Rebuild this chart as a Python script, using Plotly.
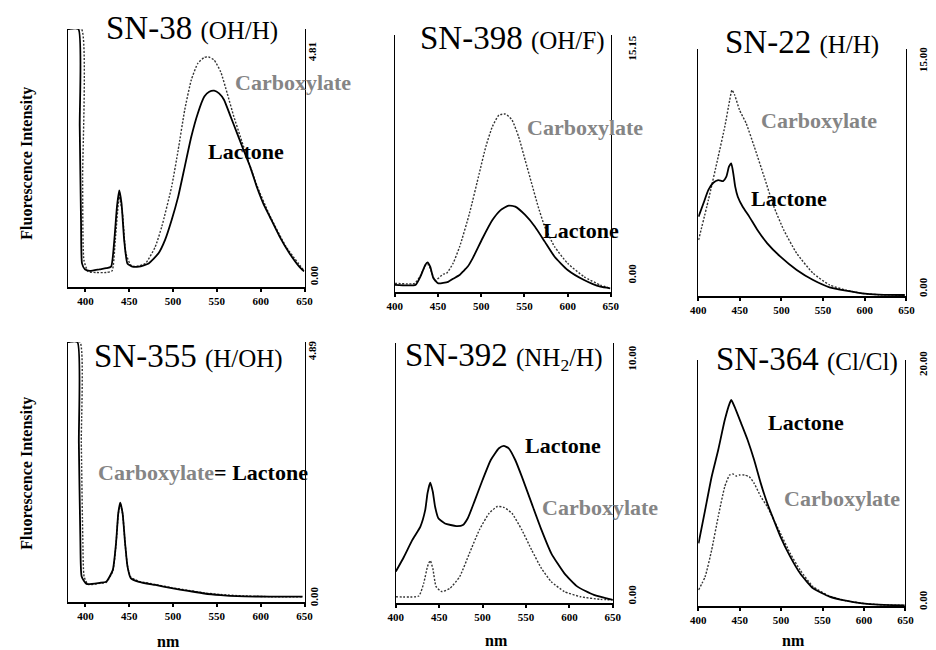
import plotly.graph_objects as go

# ---------------- data (wavelength nm, fluorescence intensity) ----------------
SN38_LAC_NM = [380, 392, 393.5, 395, 396.1, 399.4, 405, 416.2, 423.7, 429.3, 433, 436, 438.6, 441.2, 444.2, 447.9,
               453.5, 461, 472.2, 483.4, 490.9, 498.4, 505.8, 513.3, 520.8, 528.3, 535.7, 541.3, 546.9, 552.5,
               558.1, 565.6, 573, 580.5, 588, 595.5, 602.9, 610.4, 621.6, 632.8, 644, 649.6]
SN38_LAC_I = [4.81, 4.81, 3.0, 1.2, 0.44, 0.33, 0.30, 0.33, 0.35, 0.38, 0.88, 1.50, 1.80, 1.56, 0.88, 0.44,
              0.38, 0.38, 0.44, 0.63, 0.88, 1.25, 1.68, 2.24, 2.80, 3.24, 3.55, 3.64, 3.66, 3.61,
              3.49, 3.18, 2.87, 2.55, 2.24, 1.87, 1.56, 1.31, 0.94, 0.63, 0.38, 0.29]
SN38_CARB_NM = [380, 395.5, 396.8, 398.3, 403.1, 412.4, 423.7, 430.4, 434.1, 438.6, 442.3, 446.1, 451.7, 457.3,
                468.5, 479.7, 487.2, 498.4, 505.8, 513.3, 520.8, 528.3, 535.7, 540.2, 546.9, 554.4, 561.8,
                569.3, 576.8, 584.3, 595.5, 610.4, 629, 649.6]
SN38_CARB_I = [4.81, 4.81, 2.0, 0.50, 0.29, 0.27, 0.27, 0.30, 0.88, 1.68, 1.37, 0.63, 0.41, 0.38,
               0.44, 0.75, 1.13, 1.87, 2.55, 3.30, 3.86, 4.17, 4.28, 4.29, 4.23, 4.01, 3.61,
               3.18, 2.80, 2.43, 1.90, 1.33, 0.75, 0.30]

SN398_LAC_NM = [400, 423.9, 429.5, 435.2, 437.8, 440.9, 444.7, 450.3, 461.7, 467.4, 475, 478.8, 484.4, 490.2,
                501.5, 512.9, 522.4, 531.8, 539.4, 550.8, 562.2, 573.5, 584.9, 600, 619, 637.9, 649.3]
SN398_LAC_I = [0.42, 0.42, 0.90, 1.59, 1.75, 1.49, 0.81, 0.51, 0.60, 0.78, 1.00, 1.20, 1.50, 2.00,
               3.17, 4.24, 4.83, 5.09, 5.03, 4.54, 3.85, 2.97, 2.08, 1.30, 0.71, 0.31, 0.22]
SN398_CARB_NM = [400, 423, 429.5, 435.2, 437.8, 440.9, 444.7, 446.6, 456, 459.9, 467.4, 475, 486.4, 497.7, 505.3,
                 512.9, 520.5, 528.1, 535.6, 543.2, 550.8, 558.3, 565.9, 573.5, 584.9, 600, 619, 637.9, 649.3]
SN398_CARB_I = [0.51, 0.51, 0.95, 1.55, 1.65, 1.40, 0.85, 0.67, 1.05, 1.10, 1.69, 2.67, 4.64, 6.99, 8.57,
                9.75, 10.43, 10.49, 10.14, 9.16, 7.78, 6.41, 5.03, 3.85, 2.67, 1.69, 0.90, 0.41, 0.22]

SN22_LAC_NM = [400.4, 406.3, 412.2, 418.1, 424, 429.9, 433.8, 436.9, 439.7, 442.1, 444.4, 447.5, 453.4, 461.3,
               471.1, 482.9, 498.7, 518.3, 538, 557.7, 577.3, 596.9, 616.6, 648.1]
SN22_LAC_I = [4.82, 5.63, 6.44, 6.88, 7.04, 6.98, 7.25, 7.85, 8.06, 7.45, 6.64, 6.03, 5.42, 4.82,
              4.01, 3.20, 2.39, 1.58, 0.97, 0.53, 0.32, 0.16, 0.08, 0.06]
SN22_CARB_NM = [400.4, 412.2, 424, 431.9, 437.8, 440.5, 443.7, 449.6, 457.5, 467.3, 479.1, 490.9, 502.7, 518.3,
                538, 557.7, 577.3, 596.9, 616.6, 648.1]
SN22_CARB_I = [3.40, 5.83, 8.46, 10.28, 11.90, 12.51, 12.21, 11.30, 10.49, 9.07, 7.25, 5.42, 4.01, 2.59,
               1.38, 0.67, 0.36, 0.16, 0.08, 0.06]

SN355_LAC_NM = [380, 390.9, 392.5, 394.2, 395.7, 401.3, 416.2, 423.7, 431.2, 434.9, 437.5, 439.7, 442.4, 445.3,
                448, 451.7, 461, 479.7, 498.4, 517.1, 535.7, 554.4, 573.1, 610.4, 647.8]
SN355_LAC_I = [4.89, 4.89, 3.0, 1.2, 0.48, 0.34, 0.36, 0.38, 0.60, 1.10, 1.67, 1.87, 1.67, 1.10,
               0.67, 0.45, 0.38, 0.32, 0.26, 0.21, 0.16, 0.13, 0.11, 0.10, 0.10]
SN355_CARB_NM = [380, 393.8, 395.3, 397, 398.5, 403, 416.2, 423.7, 431.2, 434.9, 437.5, 439.7, 442.4, 445.3,
                 448, 451.7, 461, 479.7, 498.4, 517.1, 535.7, 554.4, 573.1, 610.4, 647.8]
SN355_CARB_I = [4.89, 4.89, 3.0, 1.2, 0.48, 0.33, 0.35, 0.37, 0.58, 1.08, 1.65, 1.85, 1.66, 1.10,
                0.68, 0.47, 0.39, 0.33, 0.27, 0.22, 0.17, 0.14, 0.12, 0.10, 0.10]

SN392_LAC_NM = [400, 409.4, 418.9, 428.3, 433.9, 436.5, 439.6, 442.6, 445.2, 449, 456.6, 469.8, 477.3, 482.9,
                490.5, 499.9, 509.4, 518.8, 524.4, 530.1, 537.6, 545.2, 556.5, 567.8, 579.1, 594.2, 609.3,
                628.2, 650]
SN392_LAC_I = [1.21, 1.78, 2.42, 2.94, 3.58, 4.22, 4.63, 4.28, 3.71, 3.26, 3.06, 2.96, 3.00, 3.26,
               3.90, 4.73, 5.50, 5.95, 6.04, 5.95, 5.50, 4.86, 3.83, 2.81, 1.91, 1.14, 0.63,
               0.31, 0.12]
SN392_CARB_NM = [400, 426.4, 432.1, 436.5, 439.6, 442.6, 446.4, 452.8, 462.2, 473.5, 484.8, 496.2, 507.5, 516.9,
                 524.4, 533.8, 545.2, 556.5, 567.8, 579.1, 594.2, 613, 635.7, 650]
SN392_CARB_I = [0.24, 0.27, 0.76, 1.40, 1.63, 1.33, 0.63, 0.44, 0.56, 1.01, 1.91, 2.81, 3.45, 3.71,
                3.68, 3.45, 2.81, 2.04, 1.33, 0.82, 0.44, 0.24, 0.14, 0.12]

SN364_LAC_NM = [400.4, 408.3, 416.2, 424.1, 432, 437.9, 439.9, 443.8, 451.8, 459.6, 467.5, 475.5, 483.3, 491.2,
                499.2, 511, 522.9, 538.6, 558.4, 578.1, 597.9, 617.6, 649.2]
SN364_LAC_I = [5.10, 7.80, 10.51, 12.68, 15.12, 16.48, 16.75, 16.21, 14.85, 13.50, 11.87, 9.97, 8.35, 6.99,
               5.64, 4.01, 2.66, 1.44, 0.76, 0.43, 0.22, 0.11, 0.05]
SN364_CARB_NM = [400.4, 408.3, 416.2, 424.1, 432, 437.9, 441.9, 445.8, 449.8, 455.7, 461.6, 467.5, 475.5, 483.3,
                 491.2, 499.2, 511, 522.9, 538.6, 558.4, 578.1, 597.9, 617.6, 649.2]
SN364_CARB_I = [1.30, 2.38, 4.55, 7.26, 9.70, 10.65, 10.73, 10.57, 10.65, 10.65, 10.51, 9.97, 8.89, 8.08,
                6.99, 5.91, 4.28, 2.93, 1.57, 0.81, 0.43, 0.22, 0.11, 0.05]

TITLES = ["SN-38", "SN-398", "SN-22", "SN-355", "SN-392", "SN-364"]
SUBTITLES = ["(OH/H)", "(OH/F)", "(H/H)", "(H/OH)", "(NH<sub>2</sub>/H)", "(Cl/Cl)"]
FULL_SCALE = [4.81, 15.15, 15.00, 4.89, 10.00, 20.00]
FULL_SCALE_LABELS = ["4.81", "15.15", "15.00", "4.89", "10.00", "20.00"]
ZERO_LABEL = "0.00"
X_START = [380, 400, 400, 380, 400, 400]
X_END = 650
X_TICKS = [400, 450, 500, 550, 600, 650]
Y_TITLE = "Fluorescence Intensity"
X_TITLE = "nm"
LAC_LABEL = "Lactone"
CARB_LABEL = "Carboxylate"

# ---------------- layout helpers ----------------
W, H = 936, 650
SERIF = "Liberation Serif"
# panel frames in pixels: (left, right, top, bottom)
FRAMES = [(61, 302, 29, 287), (394, 614, 35, 292), (703, 915, 49, 296),
          (61, 302, 342, 602), (395, 616, 343, 603), (703, 914, 360, 606)]

def fx(px):
    return px / W

def fy(py):
    return 1 - py / H

series = [
    (SN38_LAC_NM, SN38_LAC_I, SN38_CARB_NM, SN38_CARB_I),
    (SN398_LAC_NM, SN398_LAC_I, SN398_CARB_NM, SN398_CARB_I),
    (SN22_LAC_NM, SN22_LAC_I, SN22_CARB_NM, SN22_CARB_I),
    (SN355_LAC_NM, SN355_LAC_I, SN355_CARB_NM, SN355_CARB_I),
    (SN392_LAC_NM, SN392_LAC_I, SN392_CARB_NM, SN392_CARB_I),
    (SN364_LAC_NM, SN364_LAC_I, SN364_CARB_NM, SN364_CARB_I),
]

fig = go.Figure()
layout = {}
for i, (lx, ly, cx, cy) in enumerate(series):
    n = i + 1
    xa = "x" if n == 1 else f"x{n}"
    ya = "y" if n == 1 else f"y{n}"
    fig.add_trace(go.Scatter(x=cx, y=cy, xaxis=xa, yaxis=ya, mode="lines",
                             line=dict(color="#333333", width=1.4, dash="2px,1.6px", shape="spline", smoothing=0.5),
                             hoverinfo="skip"))
    fig.add_trace(go.Scatter(x=lx, y=ly, xaxis=xa, yaxis=ya, mode="lines",
                             line=dict(color="black", width=1.8, shape="spline", smoothing=0.5),
                             hoverinfo="skip"))
    l, r, t, b = FRAMES[i]
    layout["xaxis" if n == 1 else f"xaxis{n}"] = dict(
        domain=[fx(l), fx(r)], anchor=ya, range=[X_START[i], X_END],
        tickvals=X_TICKS, ticks="outside", ticklen=3, tickwidth=1.5, tickcolor="black",
        showline=True, linecolor="black", linewidth=1.5, showgrid=False, zeroline=False,
        tickfont=dict(family=SERIF, size=11, color="black", weight="bold"), fixedrange=True)
    layout["yaxis" if n == 1 else f"yaxis{n}"] = dict(
        domain=[fy(b), fy(t)], anchor=xa, range=[0, FULL_SCALE[i]],
        showline=True, mirror=True, linecolor="black", linewidth=1.3,
        showticklabels=False, ticks="", showgrid=False, zeroline=False, fixedrange=True)

fig.update_layout(**layout)

ann = []

def add_text(text, px, py, size, color="black", bold=True, angle=0, xanchor="center", yanchor="middle"):
    ann.append(dict(text=text, x=fx(px), y=fy(py), xref="paper", yref="paper", showarrow=False,
                    textangle=angle, xanchor=xanchor, yanchor=yanchor,
                    font=dict(family=SERIF, size=size, color=color, weight="bold" if bold else "normal")))

# titles
TITLE_POS = [(187, 28), (514, 38), (809, 42), (184, 356), (505, 356), (814, 359)]
for i, (px, py) in enumerate(TITLE_POS):
    add_text(f"{TITLES[i]} <span style='font-size:25px'>{SUBTITLES[i]}</span>", px, py, 33, bold=False)

# full scale / zero labels (right side)
FS_POS = [(310, 52), (636, 48), (932, 60), (310, 350), (636, 358), (932, 364)]
ZERO_POS = [(312, 275), (636, 273), (932, 287), (312, 596), (636, 594), (932, 600)]
for i in range(6):
    add_text(FULL_SCALE_LABELS[i], FS_POS[i][0], FS_POS[i][1], 11, angle=-90)
    add_text(ZERO_LABEL, ZERO_POS[i][0], ZERO_POS[i][1], 11, angle=-90)

GRAY = "#858585"
# curve labels
LAC_POS = [(202, 151), (543, 230), (755, 198), None, (525, 445), (772, 422)]
CARB_POS = [(229, 83), (527, 127), (765, 120), None, (542, 507), (788, 498)]
for i in range(6):
    if LAC_POS[i]:
        add_text(LAC_LABEL, LAC_POS[i][0], LAC_POS[i][1], 22, xanchor="left")
    if CARB_POS[i]:
        add_text(CARB_LABEL, CARB_POS[i][0], CARB_POS[i][1], 22, color=GRAY, xanchor="left")
add_text(f"<span style='color:{GRAY}'>{CARB_LABEL}</span>= {LAC_LABEL}", 90, 473, 22, xanchor="left")

# axis titles
add_text(Y_TITLE, 19, 163, 16, angle=-90)
add_text(Y_TITLE, 19, 473, 16, angle=-90)
add_text(X_TITLE, 163, 641, 16)
add_text(X_TITLE, 498, 640, 16)
add_text(X_TITLE, 800, 640, 16)

fig.update_layout(annotations=ann, width=W, height=H, margin=dict(l=0, r=0, t=0, b=0),
                  paper_bgcolor="white", plot_bgcolor="white", showlegend=False,
                  font=dict(family=SERIF))

fig.write_html("out.html")
